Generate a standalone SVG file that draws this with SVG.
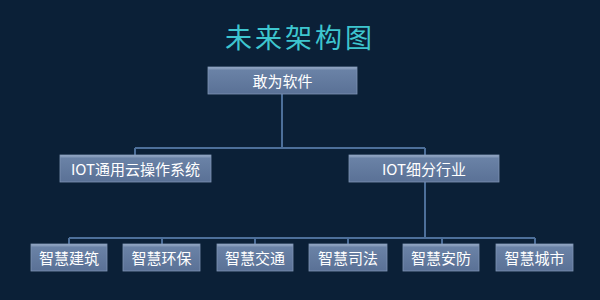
<svg xmlns="http://www.w3.org/2000/svg" width="600" height="300" viewBox="0 0 600 300">
  <defs>
    <linearGradient id="boxFill" x1="0" y1="0" x2="0" y2="1">
      <stop offset="0" stop-color="#9fb2cc"/>
      <stop offset="0.12" stop-color="#6a82a6"/>
      <stop offset="1" stop-color="#5a7196"/>
    </linearGradient>
    <style>
      .box { fill: url(#boxFill); stroke: #7f95b5; stroke-width: 0.8; }
      .label { fill: #ffffff; font-family: "Noto Sans CJK SC", "Liberation Sans", sans-serif; font-size: 15px; text-anchor: middle; dominant-baseline: central; }
      .link { stroke: #4d6f9a; stroke-width: 2; fill: none; }
      .title { fill: #3ec6cf; font-family: "Noto Sans CJK SC", sans-serif; font-size: 27px; text-anchor: middle; letter-spacing: 3px; }
    </style>
  </defs>

  <rect width="600" height="300" fill="#0b2037"/>

  <text class="title" x="300" y="48">未来架构图</text>

  <!-- connectors -->
  <g id="connectors">
    <path class="link" d="M282 94 V148 M135 148 H425 M135 148 V155 M425 148 V155"/>
    <path class="link" d="M425 182 V238 M69 238 H535"/>
    <path class="link" d="M69 238 V244 M162 238 V244 M255 238 V244 M348 238 V244 M442 238 V244 M535 238 V244"/>
  </g>

  <g id="root">
    <rect class="box" x="208" y="67" width="149" height="27"/>
    <text class="label" x="282.5" y="80.5">敢为软件</text>
  </g>

  <g id="iot-os">
    <rect class="box" x="60" y="155" width="151" height="27"/>
    <text class="label" x="135.5" y="168.5">IOT通用云操作系统</text>
  </g>

  <g id="iot-industry">
    <rect class="box" x="349" y="155" width="150" height="27"/>
    <text class="label" x="424" y="168.5">IOT细分行业</text>
  </g>

  <g id="building">
    <rect class="box" x="31" y="244" width="76" height="27"/>
    <text class="label" x="69" y="257.5">智慧建筑</text>
  </g>
  <g id="environment">
    <rect class="box" x="123" y="244" width="77" height="27"/>
    <text class="label" x="161.5" y="257.5">智慧环保</text>
  </g>
  <g id="traffic">
    <rect class="box" x="217" y="244" width="76" height="27"/>
    <text class="label" x="255" y="257.5">智慧交通</text>
  </g>
  <g id="justice">
    <rect class="box" x="309" y="244" width="78" height="27"/>
    <text class="label" x="348" y="257.5">智慧司法</text>
  </g>
  <g id="security">
    <rect class="box" x="403" y="244" width="76" height="27"/>
    <text class="label" x="441" y="257.5">智慧安防</text>
  </g>
  <g id="city">
    <rect class="box" x="496" y="244" width="77" height="27"/>
    <text class="label" x="534.5" y="257.5">智慧城市</text>
  </g>
</svg>
